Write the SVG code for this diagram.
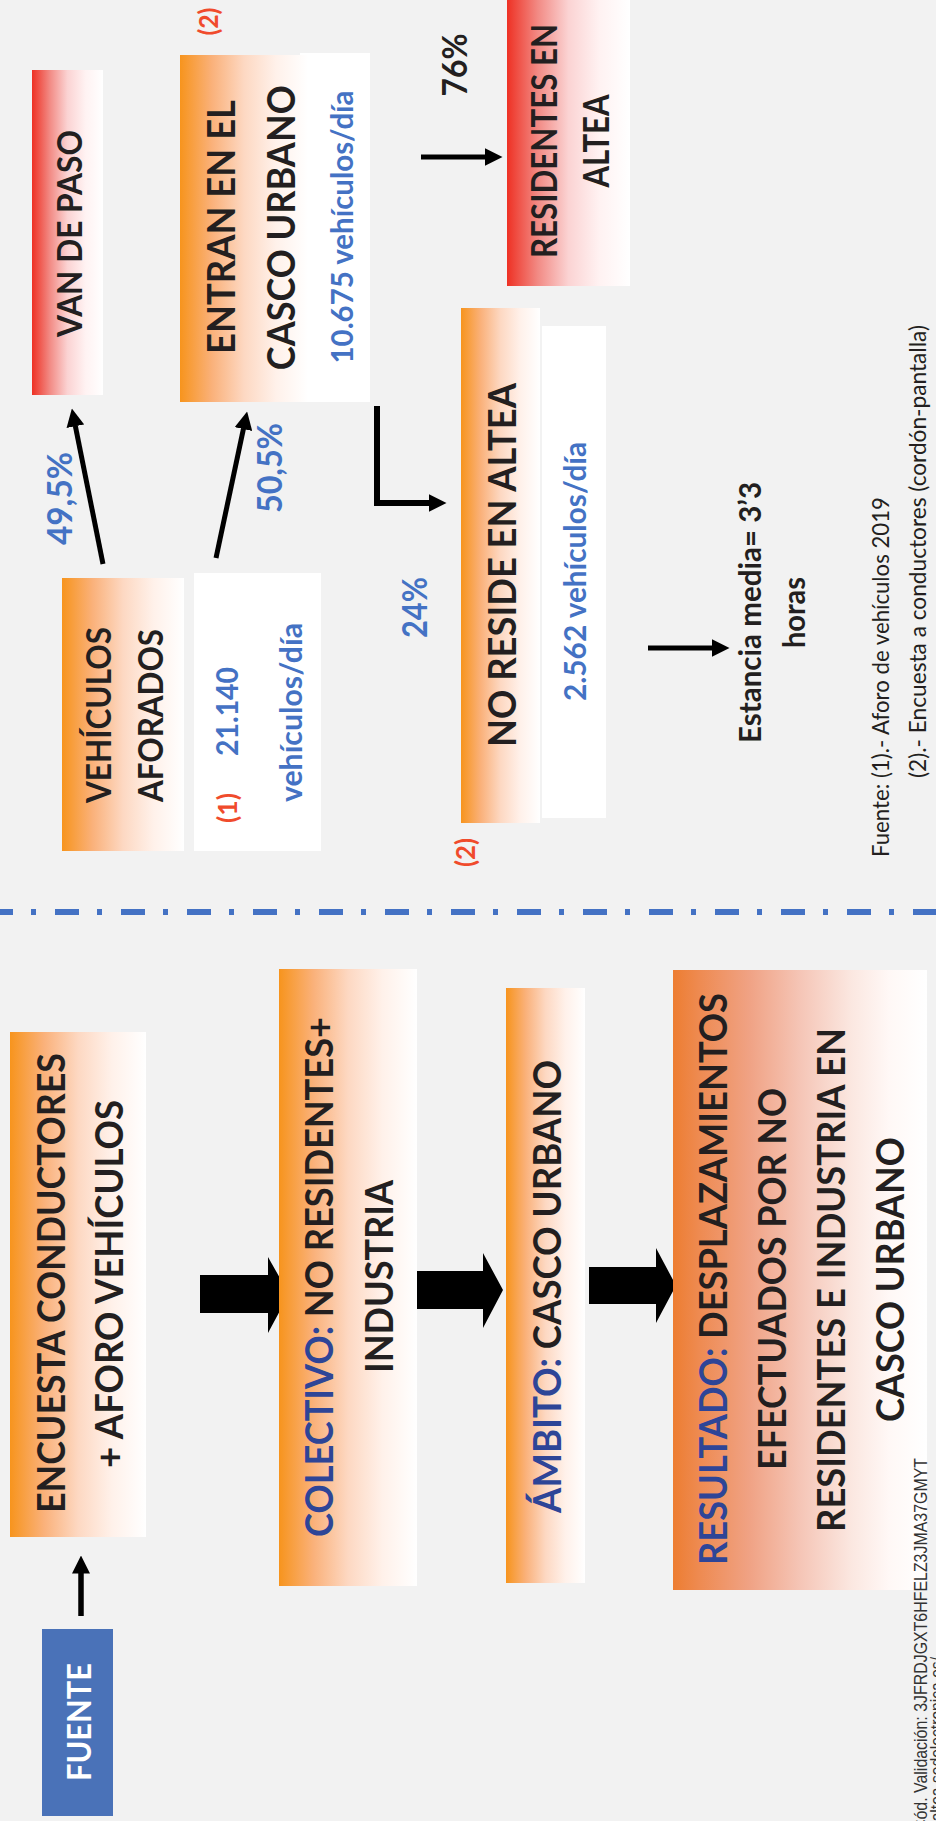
<svg xmlns="http://www.w3.org/2000/svg" width="936" height="1821" viewBox="0 0 936 1821">
<defs>
<style>
.t{font-family:Lato,"Open Sans","Liberation Sans",sans-serif;font-weight:700;text-anchor:middle;fill:#231f20}
.n{font-weight:400}
.blue{fill:#4472c4}
.lab{fill:#2e4597}
.red{fill:#f04b2c}
.wh{fill:#ffffff}
.stamp{font-family:"Liberation Sans",Arial,sans-serif;font-weight:400;fill:#333333;text-anchor:end}
.ln{fill:none;stroke:#000;stroke-width:5}
.blk{fill:#000}
</style>
<linearGradient id="gO" x1="0" y1="0" x2="1" y2="0">
<stop offset="0" stop-color="#f7941d"/><stop offset="0.25" stop-color="#fab17a"/><stop offset="0.5" stop-color="#fdd8c2"/><stop offset="0.75" stop-color="#fff1ea"/><stop offset="1" stop-color="#ffffff"/>
</linearGradient>
<linearGradient id="gR" x1="0" y1="0" x2="1" y2="0">
<stop offset="0" stop-color="#ee3124"/><stop offset="0.25" stop-color="#f28a84"/><stop offset="0.5" stop-color="#fbd3d3"/><stop offset="0.75" stop-color="#fff2f2"/><stop offset="1" stop-color="#ffffff"/>
</linearGradient>
<linearGradient id="gRes" x1="0" y1="0" x2="1" y2="0">
<stop offset="0" stop-color="#ed7d31"/><stop offset="0.1" stop-color="#ee8a50"/><stop offset="0.3" stop-color="#f0a284"/><stop offset="0.5" stop-color="#f5c5b6"/><stop offset="0.7" stop-color="#fbe7e0"/><stop offset="0.85" stop-color="#fff8f6"/><stop offset="1" stop-color="#ffffff"/>
</linearGradient>
<marker id="ah" markerUnits="userSpaceOnUse" markerWidth="18" markerHeight="18" viewBox="0 0 18 18" refX="0.5" refY="9" orient="auto">
<path d="M0,0 L18,9 L0,18 z" fill="#000"/>
</marker>
</defs>
<rect x="0" y="0" width="936" height="1821" fill="#f2f2f2"/>

<g id="connectors">
<line class="ln" x1="103" y1="564" x2="75.3" y2="425.7" marker-end="url(#ah)"/>
<line class="ln" x1="216" y1="558" x2="243.5" y2="428.6" marker-end="url(#ah)"/>
<line class="ln" x1="421" y1="157" x2="485" y2="157" marker-end="url(#ah)"/>
<path class="ln" style="stroke-width:6;stroke-linejoin:miter" d="M377,406 V503 H429" marker-end="url(#ah)"/>
<line class="ln" x1="648" y1="648" x2="712" y2="648" marker-end="url(#ah)"/>
<line class="ln" style="stroke-width:5.5" x1="81" y1="1616" x2="81" y2="1573" marker-end="url(#ah)"/>
<polygon class="blk" points="200,1275 268,1275 268,1257 289,1294 268,1333 268,1313 200,1313"/>
<polygon class="blk" points="416,1271 483,1271 483,1253 503,1290 483,1328 483,1309 416,1309"/>
<polygon class="blk" points="589,1267 656,1267 656,1248 676,1285.5 656,1323 656,1304 589,1304"/>
<line x1="0" y1="912" x2="936" y2="912" stroke="#4472c4" stroke-width="6" stroke-dasharray="24 18 5 19" stroke-dashoffset="11"/>
</g>

<g id="van-de-paso">
<rect x="32" y="70" width="71" height="325" fill="url(#gR)"/>
<text class="t" font-size="35" transform="translate(82 233.5) rotate(-90)" textLength="207" lengthAdjust="spacingAndGlyphs">VAN DE PASO</text>
</g>

<g id="entran">
<rect x="300" y="53" width="70" height="349" fill="#ffffff"/>
<rect x="180" y="55" width="128" height="347" fill="url(#gO)"/>
<text class="t red" font-size="26" transform="translate(218 21.6) rotate(-90)" textLength="28" lengthAdjust="spacingAndGlyphs">(2)</text>
<text class="t" font-size="39" transform="translate(235 227) rotate(-90)" textLength="254" lengthAdjust="spacingAndGlyphs">ENTRAN EN EL</text>
<text class="t" font-size="39" transform="translate(295 227.7) rotate(-90)" textLength="285" lengthAdjust="spacingAndGlyphs">CASCO URBANO</text>
<text class="t blue" font-size="30" transform="translate(353 227) rotate(-90)" textLength="273" lengthAdjust="spacingAndGlyphs">10.675 vehículos/día</text>
</g>

<g id="residentes">
<rect x="507" y="0" width="123" height="286" fill="url(#gR)"/>
<text class="t" font-size="36" transform="translate(557 141) rotate(-90)" textLength="234" lengthAdjust="spacingAndGlyphs">RESIDENTES EN</text>
<text class="t" font-size="36" transform="translate(609 141) rotate(-90)" textLength="93" lengthAdjust="spacingAndGlyphs">ALTEA</text>
</g>

<g id="labels">
<text class="t" font-size="34" transform="translate(467 65) rotate(-90)" textLength="63" lengthAdjust="spacingAndGlyphs">76%</text>
<text class="t blue" font-size="34" transform="translate(72 498.5) rotate(-90)" textLength="93" lengthAdjust="spacingAndGlyphs">49,5%</text>
<text class="t blue" font-size="34" transform="translate(282 468) rotate(-90)" textLength="90" lengthAdjust="spacingAndGlyphs">50,5%</text>
<text class="t blue" font-size="34" transform="translate(427 607.5) rotate(-90)" textLength="61" lengthAdjust="spacingAndGlyphs">24%</text>
</g>

<g id="vehiculos-aforados">
<rect x="62" y="578" width="122" height="273" fill="url(#gO)"/>
<text class="t" font-size="35" transform="translate(111 715) rotate(-90)" textLength="176" lengthAdjust="spacingAndGlyphs">VEHÍCULOS</text>
<text class="t" font-size="35" transform="translate(163 715.5) rotate(-90)" textLength="173" lengthAdjust="spacingAndGlyphs">AFORADOS</text>
</g>

<g id="aforo-valor">
<rect x="194" y="573" width="127" height="278" fill="#ffffff"/>
<text class="t red" font-size="26" transform="translate(237 808) rotate(-90)" textLength="30" lengthAdjust="spacingAndGlyphs">(1)</text>
<text class="t blue" font-size="31" transform="translate(238 711.5) rotate(-90)" textLength="89" lengthAdjust="spacingAndGlyphs">21.140</text>
<text class="t blue" font-size="31" transform="translate(302 712.5) rotate(-90)" textLength="179" lengthAdjust="spacingAndGlyphs">vehículos/día</text>
</g>

<g id="no-reside">
<rect x="461" y="308" width="79" height="515" fill="url(#gO)"/>
<rect x="542" y="326" width="64" height="492" fill="#ffffff"/>
<text class="t" font-size="39" transform="translate(516 565) rotate(-90)" textLength="364" lengthAdjust="spacingAndGlyphs">NO RESIDE EN ALTEA</text>
<text class="t blue" font-size="30" transform="translate(586 571.5) rotate(-90)" textLength="259" lengthAdjust="spacingAndGlyphs">2.562 vehículos/día</text>
<text class="t red" font-size="26" transform="translate(475 852.5) rotate(-90)" textLength="29" lengthAdjust="spacingAndGlyphs">(2)</text>
</g>

<g id="estancia">
<text class="t" font-size="30" transform="translate(761 612.5) rotate(-90)" textLength="261" lengthAdjust="spacingAndGlyphs">Estancia media= 3’3</text>
<text class="t" font-size="30" transform="translate(805 612.5) rotate(-90)" textLength="71" lengthAdjust="spacingAndGlyphs">horas</text>
</g>

<g id="fuentes-nota">
<text class="t n" font-size="24" transform="translate(889 677) rotate(-90)" textLength="360" lengthAdjust="spacingAndGlyphs">Fuente: (1).- Aforo de vehículos 2019</text>
<text class="t n" font-size="24" transform="translate(926 551.5) rotate(-90)" textLength="453" lengthAdjust="spacingAndGlyphs">(2).- Encuesta  a conductores (cordón-pantalla)</text>
</g>

<g id="fuente">
<rect x="42" y="1629" width="71" height="187" fill="#4a72b8"/>
<text class="t wh" font-size="33" transform="translate(91 1722) rotate(-90)" textLength="118" lengthAdjust="spacingAndGlyphs">FUENTE</text>
</g>

<g id="encuesta">
<rect x="10" y="1032" width="136" height="505" fill="url(#gO)"/>
<text class="t" font-size="39" transform="translate(65 1283) rotate(-90)" textLength="460" lengthAdjust="spacingAndGlyphs">ENCUESTA  CONDUCTORES</text>
<text class="t" font-size="39" transform="translate(123 1284) rotate(-90)" textLength="368" lengthAdjust="spacingAndGlyphs">+ AFORO VEHÍCULOS</text>
</g>

<g id="colectivo">
<rect x="279" y="969" width="138" height="617" fill="url(#gO)"/>
<text class="t" font-size="38" transform="translate(333 1277) rotate(-90)" textLength="520" lengthAdjust="spacingAndGlyphs"><tspan class="lab">COLECTIVO:</tspan> NO RESIDENTES+</text>
<text class="t" font-size="38" transform="translate(393 1276.5) rotate(-90)" textLength="193" lengthAdjust="spacingAndGlyphs">INDUSTRIA</text>
</g>

<g id="ambito">
<rect x="506" y="988" width="79" height="595" fill="url(#gO)"/>
<text class="t" font-size="39" transform="translate(561 1286.5) rotate(-90)" textLength="453" lengthAdjust="spacingAndGlyphs"><tspan class="lab">ÁMBITO:</tspan> CASCO URBANO</text>
</g>

<g id="resultado">
<rect x="673" y="970" width="254" height="620" fill="url(#gRes)"/>
<text class="t" font-size="39" transform="translate(727 1279) rotate(-90)" textLength="572" lengthAdjust="spacingAndGlyphs"><tspan class="lab">RESULTADO:</tspan> DESPLAZAMIENTOS</text>
<text class="t" font-size="39" transform="translate(786 1279) rotate(-90)" textLength="382" lengthAdjust="spacingAndGlyphs">EFECTUADOS POR NO</text>
<text class="t" font-size="39" transform="translate(845 1280) rotate(-90)" textLength="504" lengthAdjust="spacingAndGlyphs">RESIDENTES E INDUSTRIA EN</text>
<text class="t" font-size="39" transform="translate(904 1279.5) rotate(-90)" textLength="285" lengthAdjust="spacingAndGlyphs">CASCO URBANO</text>
</g>

<g id="sello">
<text class="stamp" font-size="19" transform="translate(927 1458) rotate(-90)" textLength="373" lengthAdjust="spacingAndGlyphs">Cód. Validación: 3JFRDJGXT6HFELZ3JMA37GMYT</text>
<text class="stamp" font-size="19" transform="translate(943 1657) rotate(-90)" textLength="300" lengthAdjust="spacingAndGlyphs">Verificación: https://altea.sedelectronica.es/</text>
</g>
</svg>
